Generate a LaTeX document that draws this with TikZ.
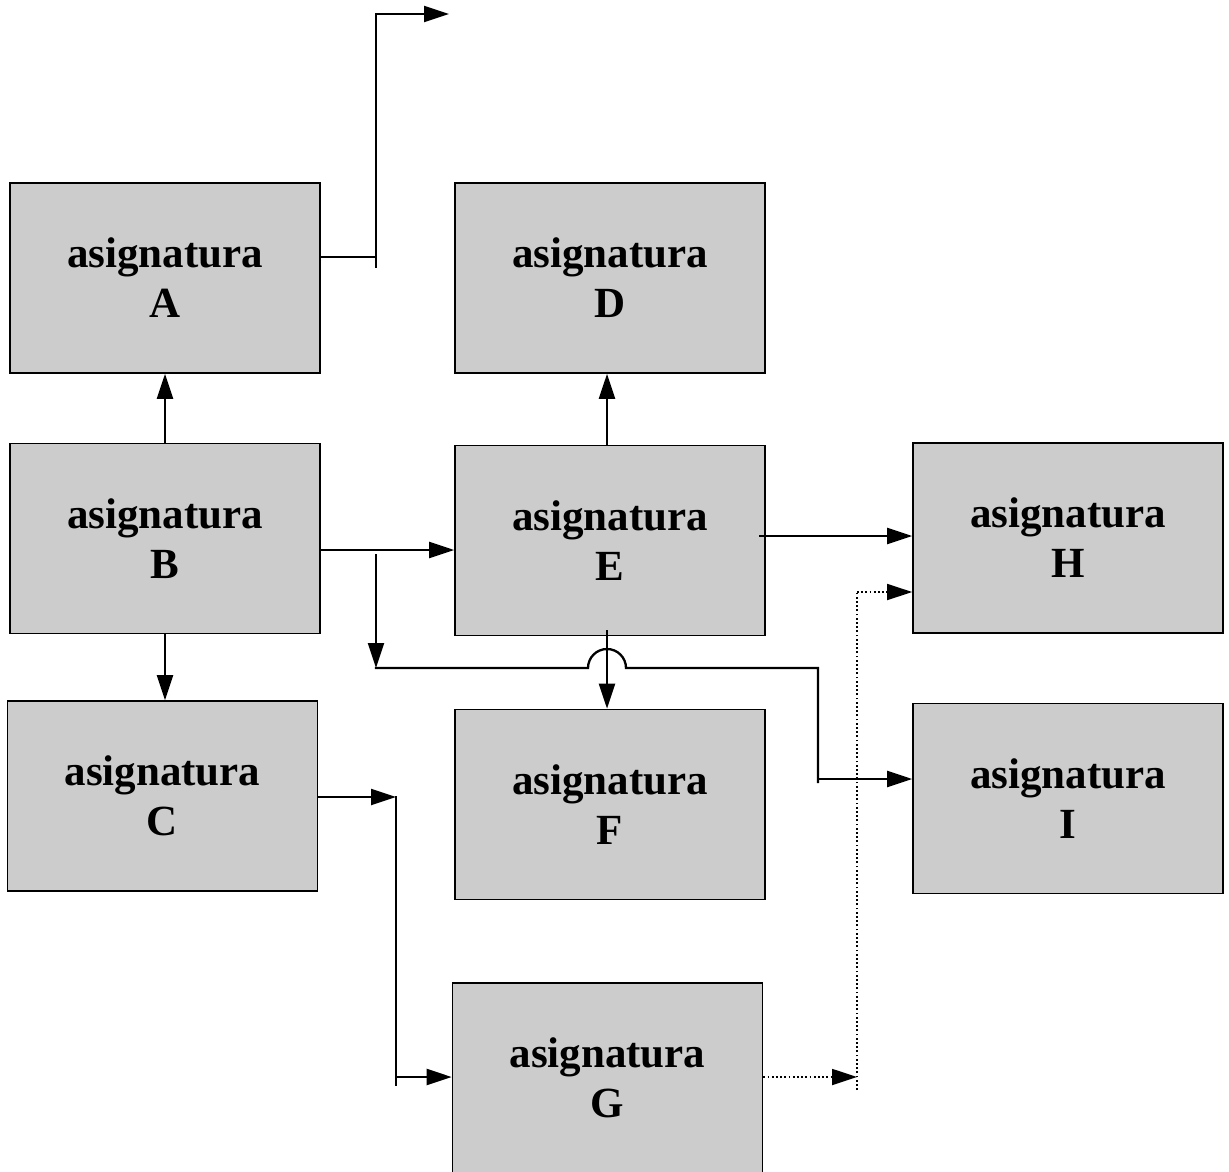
\documentclass[tikz,border=0pt]{standalone}
\usepackage{fontspec}
\setmainfont{Liberation Serif}
\usetikzlibrary{arrows.meta}
\definecolor{boxgray}{HTML}{CCCCCC}
\tikzset{
  box/.style={draw=black, line width=1.7pt, fill=boxgray, minimum width=310pt, minimum height=190pt,
    inner sep=0pt, align=center, font=\fontsize{43}{50}\selectfont\bfseries},
  conn/.style={line width=2.3pt, line cap=rect},
  arr/.style={conn, -{Triangle[length=25pt,width=16pt]}},
  dots/.style={line width=1.8pt, dash pattern=on 1.8pt off 2.4pt},
  dotarr/.style={dots, -{Triangle[length=25pt,width=16pt]}},
}
\begin{document}
\begin{tikzpicture}[x=1pt,y=-1pt]
\useasboundingbox (0,0) rectangle (1229,1172);
% boxes
\node[box] (A) at (165,278) {asignatura\\A};
\node[box] (D) at (610,278) {asignatura\\D};
\node[box] (B) at (165,538.5) {asignatura\\B};
\node[box] (E) at (610,540.5) {asignatura\\E};
\node[box] (H) at (1068,538) {asignatura\\H};
\node[box] (C) at (162.5,796) {asignatura\\C};
\node[box] (F) at (610,804.5) {asignatura\\F};
\node[box] (I) at (1068,798.5) {asignatura\\I};
\node[box] (G) at (607.5,1078) {asignatura\\G};
% helper coordinates
\coordinate (xE) at (607,0);
\coordinate (a1) at (376,257);
\coordinate (a2) at (376,267);
\coordinate (a3) at (376,14);
\coordinate (a4) at (449,14);
\coordinate (yBE) at (0,550);
\coordinate (c1) at (376,555);
\coordinate (c2) at (376,668);
\coordinate (c3) at (588,668);
\coordinate (c4) at (818,668);
\coordinate (c5) at (818,782);
\coordinate (c6) at (818,779);
\coordinate (yEH) at (760,536);
\coordinate (yC) at (0,797);
\coordinate (g1) at (396,797);
\coordinate (g2) at (396,1085);
\coordinate (g3) at (396,1077);
\coordinate (yG) at (0,1077);
\coordinate (h1) at (857,1077);
\coordinate (h2) at (857,1090);
\coordinate (h3) at (857,592);
% connectors
\draw[conn] (A.east |- a1) -- (a1);
\draw[conn] (a2) -- (a3);
\draw[arr] (a3) -- (a4);
\draw[arr] (B.north) -- (A.south);
\draw[arr] (B.south) -- (B.south |- C.north);
\draw[arr] (B.east |- yBE) -- (E.west |- yBE);
\draw[arr] (c1) -- (c2);
\draw[conn] (c2) -- (c3) arc[start angle=180, end angle=0, radius=19pt] -- (c4) -- (c5);
\draw[arr] (c6) -- (I.west |- c6);
\draw[arr] (E.north -| xE) -- (D.south -| xE);
\draw[arr] ([yshift=5pt]E.south -| xE) -- (F.north -| xE);
\draw[arr] (yEH) -- (H.west |- yEH);
\draw[arr] (C.east |- yC) -- (g1);
\draw[conn] (g1) -- (g2);
\draw[arr] (g3) -- (G.west |- g3);
\draw[dotarr] (G.east |- yG) -- (h1);
\draw[dots] (h2) -- (h3);
\draw[dotarr] (h3) -- (H.west |- h3);
\end{tikzpicture}
\end{document}
